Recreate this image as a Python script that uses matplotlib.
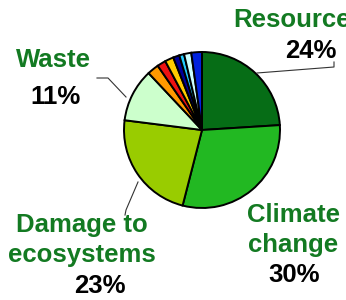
import matplotlib
matplotlib.use("Agg")
import matplotlib.pyplot as plt

# --- data ------------------------------------------------------------------
# clockwise from 12 o'clock
shares = [24, 30, 23, 11, 2.4, 1.8, 1.8, 1.3, 1.0, 1.5, 2.2]
colors = ["#066d16", "#22b822", "#99cc00", "#ccffcc",
          "#ff9900", "#ee1111", "#ffcc00", "#000099", "#22ccff", "#ccffff", "#0022dd"]
labels = ["Resource", "Climate\nchange", "Damage to\necosystems", "Waste"]
pct_text = ["24%", "30%", "23%", "11%"]

W, H = 346, 300
LABEL_GREEN = "#137a22"
FONT = ["Liberation Sans", "DejaVu Sans"]
FS = 18.5
LINE_STEP = 30  # px between label lines

# label anchors in pixel coords (y down): (x, first-baseline y, ha), pct (x, baseline)
label_pos = [(233, 27, "left"), (293, 222, "center"), (82, 232, "center"), (53.5, 67, "center")]
pct_pos = [(310.5, 58), (294, 282), (100, 293), (55.5, 104)]
leaders = [
    [(334, 62), (334, 67), (257, 73)],
    None,
    [(125, 215), (126, 210), (138, 182)],
    [(97, 78), (108, 78), (126, 97)],
]


def up(y):
    return H - y


fig = plt.figure(figsize=(W / 100, H / 100), dpi=100)
ax = fig.add_axes([0, 0, 1, 1])

ax.pie(shares, colors=colors, startangle=90, counterclock=False,
       center=(202, up(130)), radius=78, frame=True,
       wedgeprops=dict(edgecolor="black", linewidth=1.4))
ax.set_xlim(0, W)
ax.set_ylim(0, H)
ax.set_aspect("equal")
ax.axis("off")

for lab, (x, y, ha), pct, (px, py), lead in zip(labels, label_pos, pct_text, pct_pos, leaders):
    for i, line in enumerate(lab.split("\n")):
        ax.text(x, up(y + i * LINE_STEP), line, ha=ha, va="baseline", fontsize=FS,
                fontweight="bold", color=LABEL_GREEN, family=FONT)
    ax.text(px, up(py), pct, ha="center", va="baseline", fontsize=FS,
            fontweight="bold", color="black", family=FONT)
    if lead:
        xs, ys = zip(*lead)
        ax.plot(xs, [up(v) for v in ys], color="#333333", lw=0.8)

fig.savefig("out.png", dpi=100)
